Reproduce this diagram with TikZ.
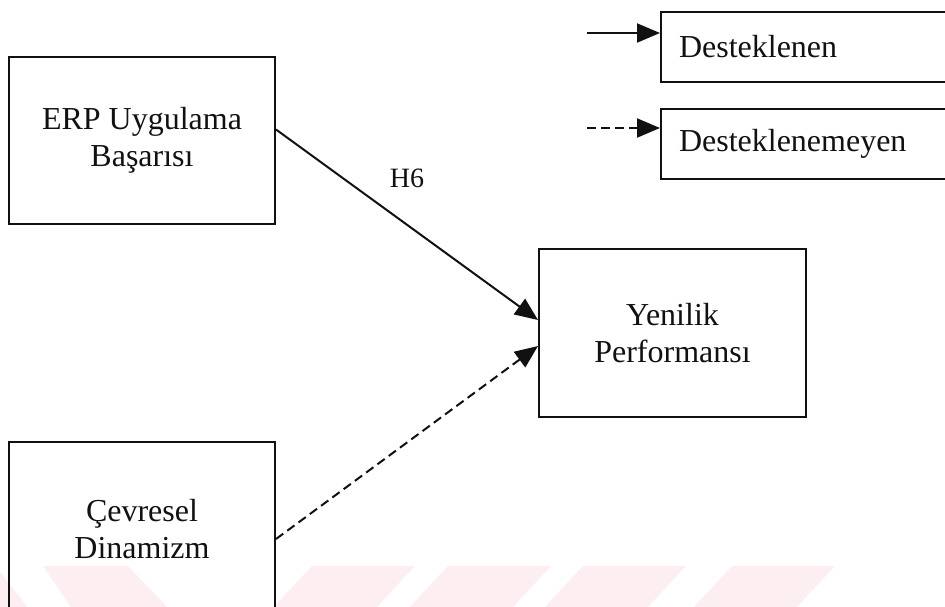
\documentclass[tikz,border=0pt]{standalone}
\usepackage{fontspec}
\setmainfont{Liberation Serif}
\usetikzlibrary{arrows.meta,positioning}
\definecolor{ink}{HTML}{111111}
\definecolor{wmpink}{HTML}{FDEEF1}
\tikzset{
  box/.style={rectangle,draw=ink,line width=2pt,align=center,text=ink,
              font=\fontsize{32}{37}\selectfont,minimum width=266pt,minimum height=167pt,inner sep=0pt},
  legbox/.style={rectangle,draw=ink,line width=2pt,align=left,text=ink,text width=300pt,
              font=\fontsize{32}{37}\selectfont,inner xsep=18pt,inner ysep=0pt,minimum height=70pt},
  fl/.style={-{Triangle[length=23pt,width=19pt]},line width=2pt,draw=ink},
  fld/.style={fl,dash pattern=on 9pt off 5pt},
  lbl/.style={font=\fontsize{28}{30}\selectfont,text=ink,inner sep=1pt},
}
\begin{document}
\begin{tikzpicture}[x=1pt,y=-1pt]
\useasboundingbox (0,0) rectangle (945,606);
% faint watermark bands
\fill[wmpink] (0,572) -- (0,610) -- (30,610) -- cycle;
\fill[wmpink] (43,566) -- (128,566) -- (170,610) -- (73,610) -- cycle;
\foreach \a in {312,448,583,732}
  \fill[wmpink] (\a,566) -- (\a+103,566) -- (\a+62,610) -- (\a-41,610) -- cycle;
% model
\node[box] (erp) at (142,140.5) {ERP Uygulama\\Başarısı};
\node[box,minimum height=174pt,below=216pt of erp] (cev) {Çevresel\\Dinamizm};
\node[box,minimum width=267pt,minimum height=168pt] (yen) at (672.5,333) {Yenilik\\Performansı};
\draw[fl] ([yshift=11pt]erp.east) -- ([yshift=13pt]yen.west);
\draw[fld] ([yshift=-10pt]cev.east) -- ([yshift=-13pt]yen.west);
\node[lbl] (h6) at (407,178) {H6};
% legend
\node[legbox,anchor=north west] (sup) at (660,11) {Desteklenen};
\node[legbox,below=25pt of sup] (unsup) {Desteklenemeyen};
\coordinate (s1) at (587,33);
\coordinate (s2) at (587,128);
\draw[fl] (s1) -- (s1 -| sup.west);
\draw[fld] (s2) -- (s2 -| unsup.west);
\end{tikzpicture}
\end{document}
